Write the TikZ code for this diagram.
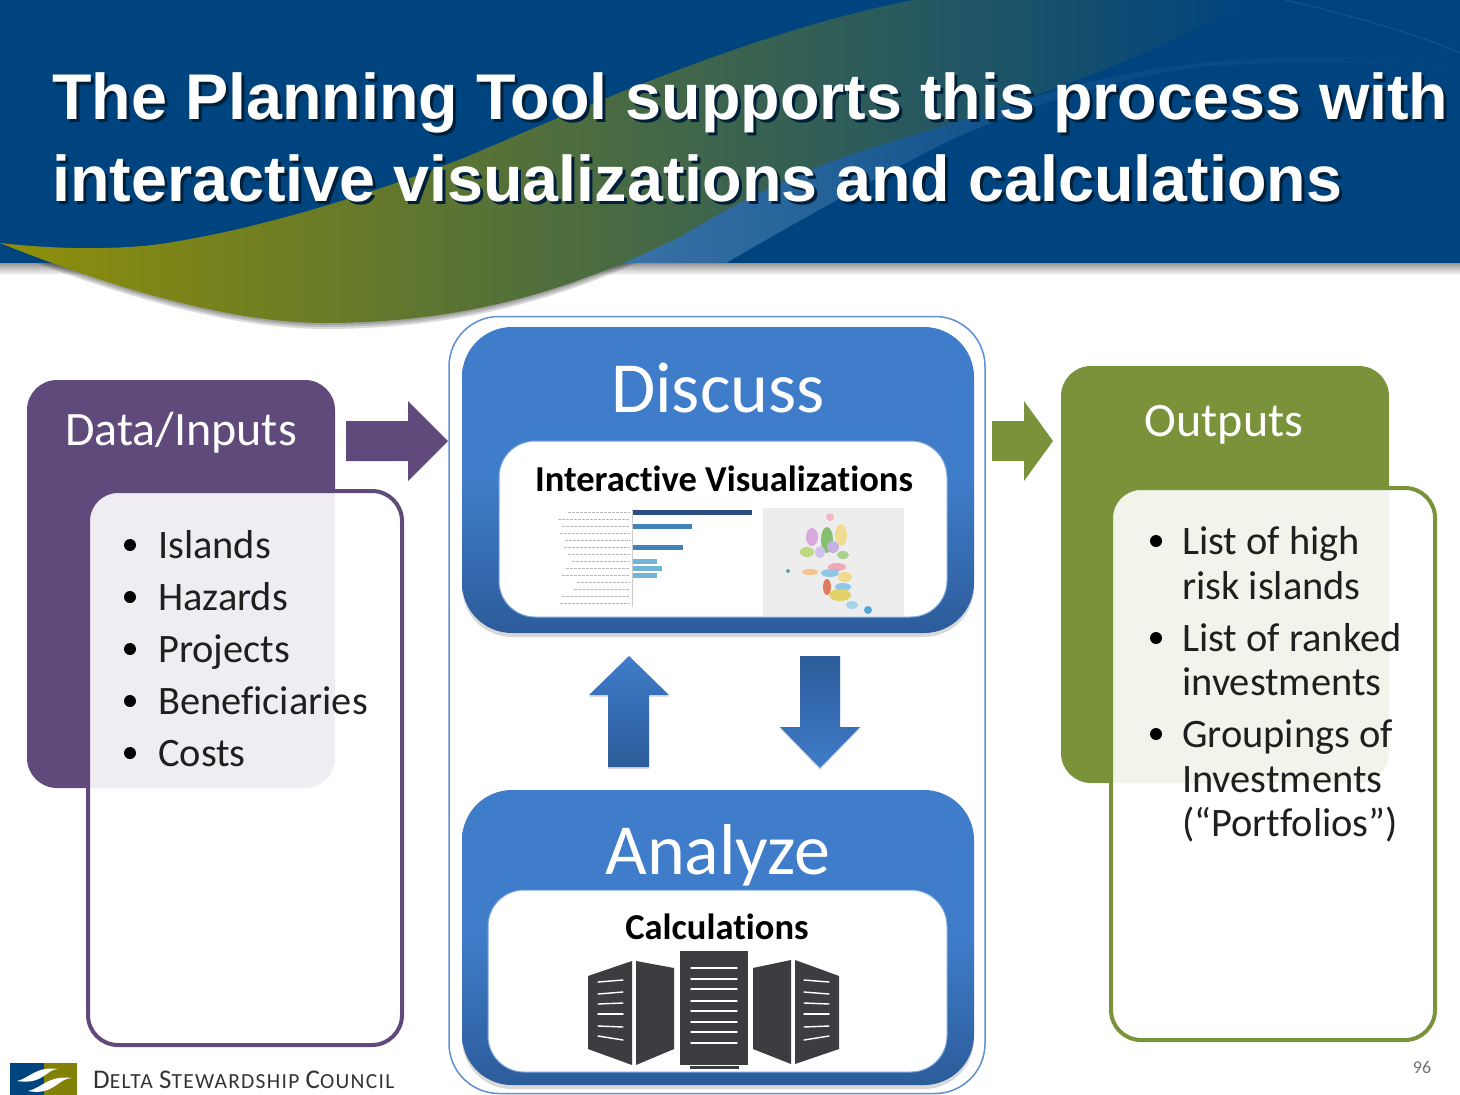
\documentclass[tikz,border=0pt]{standalone}
\usepackage{fontspec}
\setmainfont{Carlito}[Ligatures=NoCommon]
\newfontfamily\titlefont{Liberation Sans}
\usepackage{xcolor}
\usetikzlibrary{shadows}
\definecolor{BannerBlue}{HTML}{00447F}
\definecolor{SwooshOlive}{HTML}{8F8F08}
\definecolor{BandBlue}{HTML}{3A74A8}
\definecolor{PanelBlue}{HTML}{3F7CC9}
\definecolor{PanelDark}{HTML}{2C5C9A}
\definecolor{InputPurple}{HTML}{604A7B}
\definecolor{OutputGreen}{HTML}{7A933B}
\definecolor{ServerGray}{HTML}{3C3D40}
\newcommand{\swooshpath}{(0,243) .. controls (60,250) and (130,250) .. (173,242)
  .. controls (260,228) and (370,195) .. (466,157)
  .. controls (600,100) and (760,30) .. (913,0)
  -- (1250,0) .. controls (1150,60) and (1000,110) .. (874,147)
  .. controls (800,170) and (740,200) .. (680,237)
  .. controls (610,270) and (500,323) .. (325,323)
  .. controls (240,323) and (130,295) .. (0,243) -- cycle}
\newcommand{\capsmall}[2]{{\fontsize{27}{27}\selectfont\addfontfeatures{LetterSpace=6}#1}{\fontsize{21.5}{22}\selectfont\addfontfeatures{LetterSpace=6}#2}}
\newcommand{\shadowed}[1]{\rlap{\hspace{3pt}\raisebox{-3pt}{\textcolor{black!55!BannerBlue}{#1}}}#1}
\tikzset{
  bluepanel/.style={rounded corners=50pt,inner sep=0pt,top color=PanelBlue,bottom color=PanelDark,middle color=PanelBlue,
    drop shadow={shadow xshift=0pt,shadow yshift=-4pt,opacity=0.3}},
  whitepanel/.style={rounded corners=36pt,fill=white,inner sep=0pt,draw=PanelBlue!70!white,line width=1pt},
  listtext/.style={anchor=base west,font=\fontsize{40.4}{40}\selectfont,inner sep=0pt,text=black!88},
  boxtitle/.style={font=\fontsize{72}{72}\selectfont,text=white,inner sep=0pt},
  headtitle/.style={font=\fontsize{48}{48}\selectfont,text=white,inner sep=0pt},
  subtitle/.style={font=\fontsize{36.5}{36}\selectfont\bfseries,text=black,inner sep=0pt},
  slidetitle/.style={anchor=base west,font=\titlefont\bfseries\fontsize{64.65}{65}\selectfont,inner sep=0pt,text=white},
  towerline/.style={draw=white,line width=1.4pt,line cap=round}
}
\begin{document}
\begin{tikzpicture}[x=1pt,y=-1pt]
    \useasboundingbox (0,0) rectangle (1460,1095);
    % banner
    \shade[top color=black!45,bottom color=white] (0,262) rectangle (1460,275);
    \foreach \drop in {-6pt,-4pt,-2pt}{
      \fill[black,opacity=0.14,yshift=\drop] \swooshpath;
    }
    \fill[BannerBlue] (0,0) rectangle (1460,263);
    \draw[BannerBlue!90!white,line width=0.8pt] (1285,0) .. controls (1350,15) and (1420,35) .. (1460,53);
    \shade[left color=BandBlue,right color=BannerBlue,middle color=BannerBlue!78!BandBlue]
      (611,263) .. controls (680,225) and (780,175) .. (874,147)
      .. controls (960,120) and (1060,85) .. (1148,70)
      .. controls (1240,55) and (1380,50) .. (1460,70)
      .. controls (1380,62) and (1290,60) .. (1203,67)
      .. controls (1130,75) and (1040,100) .. (951,140)
      .. controls (880,175) and (800,220) .. (726,263) -- cycle;
    \shade[left color=SwooshOlive,right color=BannerBlue] \swooshpath;
    \node[slidetitle] (titlea) at (52,119) {\shadowed{The Planning Tool supports this process with}};
    \node[slidetitle] (titleb) at (52,201) {\shadowed{interactive visualizations and calculations}};
    % inputs
    \node[rounded corners=30pt,fill=InputPurple,minimum width=308pt,minimum height=408pt,inner sep=0pt] (inputback) at (181,584) {};
    \node[rounded corners=30pt,fill=white,fill opacity=0.9,draw=InputPurple,line width=4pt,minimum width=314pt,minimum height=554pt,inner sep=0pt] (inputlist) at (245,768) {};
    \node[headtitle] (inputhead) at (181,433) {Data/Inputs};
    \foreach \name/\base in {Islands/558,Hazards/610,Projects/662,Beneficiaries/714,Costs/766}{
      \fill[black] (130,\base-13) circle (6pt);
      \node[listtext] at (158,\base) {\name};
    }
    \fill[InputPurple] (346,421) -- (408,421) -- (408,401) -- (448,441) -- (408,481) -- (408,461) -- (346,461) -- cycle;
    % middle column
    \node[draw=PanelBlue!85!white,line width=1.5pt,fill=white,rounded corners=50pt,minimum width=536pt,minimum height=777pt,inner sep=0pt] (outerbox) at (717,705) {};
    \node[bluepanel,minimum width=512pt,minimum height=306pt] (discuss) at (718,480) {};
    \node[whitepanel,minimum width=448pt,minimum height=176pt] (vizbox) at (723,529) {};
    \node[boxtitle] (discusstext) at (718,388) {Discuss};
    \node[subtitle] (viztext) at (724,479) {Interactive Visualizations};
    % bars of the small chart
    \foreach \rowy/\barend/\barcol in {512/752/2A4E80,526/692/3F83B8,547/683/3F83B8,561/657/72B5D8,568/662/72B5D8,575/657/72B5D8}{
      \definecolor{barfill}{HTML}{\barcol}
      \fill[barfill] (632,\rowy-2.5) rectangle (\barend,\rowy+2.5);
    }
    \foreach \rowy/\rowstart in {512/568,519/558,526/562,533/560,540/565,547/564,554/568,561/572,568/566,575/562,582/577,589/574,596/562,603/560}{
      \draw[black!28,line width=1pt,dash pattern=on 3pt off 1pt] (\rowstart,\rowy) -- (630,\rowy);
    }
    \draw[black!20] (632,509) -- (632,607);
    % small map
    \fill[black!7] (763,508) rectangle (904,616);
    \foreach \mapx/\mapy/\mapw/\maph/\mapcol in {830/517/4/4/F3B9C9,812/537/6/9/D9A8DC,827/540/6/13/86BE72,841/535/6/11/EFDD93,833/547/6/6/C5B2E2,807/552/7/5/BFD97F,820/552/5/6/CFC3EC,843/555/6/4/A9D08E,837/567/9/4/EFA9B6,830/573/9/4/8FC7E6,810/572/8/3/F3C58A,788/571/2/2/5AA5A5,827/587/4/8/E07B5F,845/577/7/5/EFD98B,843/587/8/4/8FC7E6,840/595/11/6/E3D265,852/605/6/4/A6D3EA,868/610/4/4/4FA8D8}{
      \definecolor{mapfill}{HTML}{\mapcol}
      \fill[mapfill] (\mapx,\mapy) ellipse ({\mapw pt} and {\maph pt});
    }
    % arrows between the panels
    \shade[top color=PanelBlue,bottom color=PanelDark,drop shadow={shadow xshift=0pt,shadow yshift=-2pt,opacity=0.25}]
      (629,656) -- (669,695) -- (649,695) -- (649,767) -- (608,767) -- (608,695) -- (589,695) -- cycle;
    \shade[top color=PanelDark,bottom color=PanelBlue,drop shadow={shadow xshift=0pt,shadow yshift=-2pt,opacity=0.25}]
      (800,656) -- (840,656) -- (840,727) -- (860,727) -- (820,768) -- (780,727) -- (800,727) -- cycle;
    \node[bluepanel,minimum width=512pt,minimum height=295pt] (analyze) at (718,937.5) {};
    \node[whitepanel,minimum width=459pt,minimum height=182pt] (calcbox) at (717.5,981) {};
    \node[boxtitle] (analyzetext) at (718,855) {Analyze};
    \node[subtitle] (calctext) at (717,927) {Calculations};
    % servers
    \fill[ServerGray] (680,951) rectangle (748,1065);
    \fill[ServerGray] (690,1066) rectangle (739,1069);
    \foreach \liney in {968,979,989,1001,1011,1022,1032,1043}{
      \draw[towerline] (691,\liney) -- (737,\liney);
    }
    \fill[ServerGray] (588,976) -- (632,961) -- (632,1065) -- (588,1049) -- cycle;
    \fill[ServerGray] (636,961) -- (674,968) -- (674,1049) -- (636,1065) -- cycle;
    \fill[ServerGray] (753,968) -- (791,960) -- (791,1064) -- (753,1049) -- cycle;
    \fill[ServerGray] (795,960) -- (839,976) -- (839,1049) -- (795,1064) -- cycle;
    \foreach \ya/\yb in {982/980,994/992,1004/1003,1014/1014,1026/1027,1036/1040}{
      \draw[towerline] (598,\ya) -- (623,\yb);
      \draw[towerline] (829,\ya) -- (804,\yb);
    }
    % outputs
    \fill[OutputGreen] (992,421) -- (1024,421) -- (1024,401) -- (1053,441) -- (1024,481) -- (1024,461) -- (992,461) -- cycle;
    \node[rounded corners=30pt,fill=OutputGreen,minimum width=328pt,minimum height=417pt,inner sep=0pt] (outputback) at (1225,574.5) {};
    \node[rounded corners=30pt,fill=white,fill opacity=0.9,draw=OutputGreen,line width=4pt,minimum width=324pt,minimum height=552pt,inner sep=0pt] (outputlist) at (1273,764) {};
    \node[headtitle] (outputhead) at (1224,425) {Outputs};
    \foreach \bullety in {541,638,734}{
      \fill[black] (1156,\bullety) circle (6pt);
    }
    \foreach \line/\base in {List of high/554,risk islands/599,List of ranked/651,investments/695,Groupings of/747,Investments/792,(“Portfolios”)/836}{
      \node[listtext] at (1182,\base) {\line};
    }
    % footer
    \fill[BannerBlue] (10,1063) rectangle (44,1095);
    \fill[SwooshOlive!90!black] (44,1063) rectangle (77,1095);
    \fill[white] (17,1081) .. controls (30,1078) and (36,1066) .. (58,1069) .. controls (46,1069) and (44,1085) .. (17,1081) -- cycle;
    \fill[white] (28,1091) .. controls (42,1088) and (48,1075) .. (72,1078) .. controls (58,1078) and (54,1096) .. (28,1091) -- cycle;
    \node[anchor=base west,inner sep=0pt,text=black!80] (council) at (93,1088)
      {\capsmall{D}{ELTA}\hspace{4pt} \capsmall{S}{TEWARDSHIP}\hspace{4pt} \capsmall{C}{OUNCIL}};
    \node[inner sep=0pt,text=black!55,font=\fontsize{18}{18}\selectfont] (pagenum) at (1422,1067) {96};
  \end{tikzpicture}
\end{document}
